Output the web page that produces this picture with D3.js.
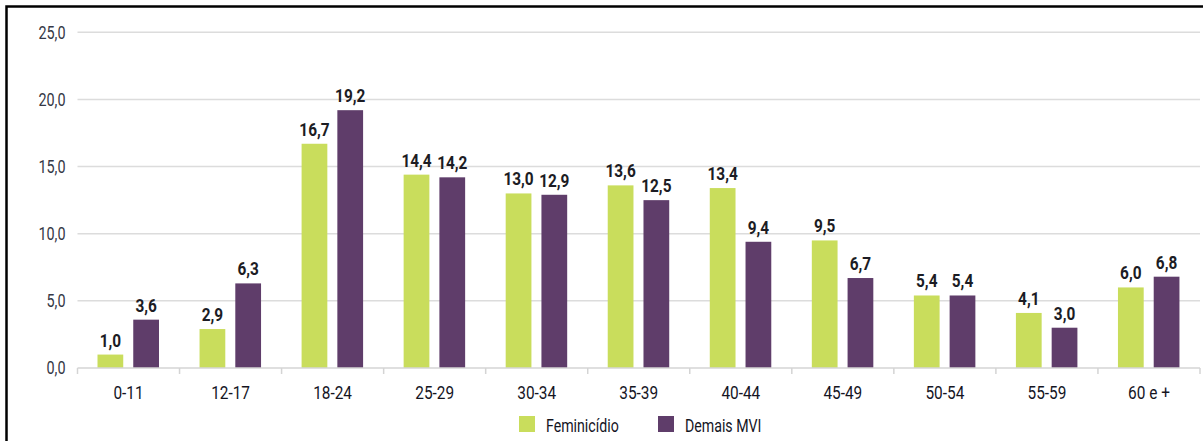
<!DOCTYPE html>
<html lang="pt-BR">
<head>
<meta charset="utf-8">
<script src="https://cdn.jsdelivr.net/npm/d3@7"></script>
<style>
  html, body { margin: 0; padding: 0; background: #fff; }
  svg { display: block; }
  text { font-family: Roboto, "Liberation Sans", sans-serif; }
</style>
</head>
<body>
<svg id="chart" width="1203" height="441"></svg>
<script>
// Age groups and rates per series
const categories = ["0-11", "12-17", "18-24", "25-29", "30-34", "35-39", "40-44", "45-49", "50-54", "55-59", "60 e +"];
const feminicidio = [1.0, 2.9, 16.7, 14.4, 13.0, 13.6, 13.4, 9.5, 5.4, 4.1, 6.0];
const demaisMVI   = [3.6, 6.3, 19.2, 14.2, 12.9, 12.5, 9.4, 6.7, 5.4, 3.0, 6.8];
const seriesNames = ["Feminicídio", "Demais MVI"];
const yTicks = [0, 5, 10, 15, 20, 25];

const colors = { "Feminicídio": "#c9dd5c", "Demais MVI": "#5f3d6a" };

const svg = d3.select("#chart");
const W = 1203, H = 441;
const plot = { left: 77.5, right: 1200, top: 32.3, bottom: 368 };
const SX = 0.81; // horizontal squeeze for a condensed look

const fmt = v => d3.format(".1f")(v).replace(".", ",");

const x = d3.scaleBand().domain(categories).range([plot.left, plot.right]).paddingInner(0).paddingOuter(0);
const inner = d3.scaleBand().domain(seriesNames).range([20, 81.5]).paddingInner(0.28);
const y = d3.scaleLinear().domain([0, 25]).range([plot.bottom, plot.top]);

const rows = categories.map((c, i) => ({
  cat: c,
  values: [
    { key: seriesNames[0], value: feminicidio[i] },
    { key: seriesNames[1], value: demaisMVI[i] }
  ]
}));

// Horizontal gridlines
svg.append("g")
  .selectAll("line")
  .data(yTicks.filter(t => t > 0))
  .join("line")
  .attr("x1", plot.left).attr("x2", plot.right)
  .attr("y1", d => y(d)).attr("y2", d => y(d))
  .attr("stroke", "#dcdcdc").attr("stroke-width", 1.5);

// Y axis labels
const YSX = 0.8;
const yAxis = svg.append("g")
  .attr("transform", `translate(${plot.left},0)`)
  .call(d3.axisLeft(y).tickValues(yTicks).tickFormat(fmt).tickSize(0));
yAxis.select(".domain").remove();
yAxis.selectAll("text")
  .attr("x", -12 / YSX)
  .attr("transform", `scale(${YSX},1)`)
  .attr("font-size", 18)
  .attr("fill", "#353846")
  .style("font-family", null);

// Bars
const groups = svg.append("g")
  .selectAll("g")
  .data(rows)
  .join("g")
  .attr("transform", d => `translate(${x(d.cat)},0)`);

groups.selectAll("rect")
  .data(d => d.values)
  .join("rect")
  .attr("x", d => inner(d.key))
  .attr("width", inner.bandwidth())
  .attr("y", d => y(d.value))
  .attr("height", d => y(0) - y(d.value))
  .attr("fill", d => colors[d.key]);

// Value labels
groups.selectAll("text.val")
  .data(d => d.values)
  .join("text")
  .attr("class", "val")
  .attr("transform", d => `translate(${inner(d.key) + inner.bandwidth() / 2},${y(d.value) - 8}) scale(${SX},1)`)
  .attr("text-anchor", "middle")
  .attr("font-size", 19)
  .attr("font-weight", "bold")
  .attr("fill", "#1c1c24")
  .text(d => fmt(d.value));

// X axis baseline and boundary ticks
const xAxisG = svg.append("g");
xAxisG.append("line")
  .attr("x1", plot.left).attr("x2", plot.right)
  .attr("y1", plot.bottom).attr("y2", plot.bottom)
  .attr("stroke", "#d4d4d4").attr("stroke-width", 1.5);
const edges = categories.map(c => x(c)).concat([x(categories[categories.length - 1]) + x.bandwidth()]);
xAxisG.selectAll("line.tick")
  .data(edges)
  .join("line")
  .attr("class", "tick")
  .attr("x1", d => d).attr("x2", d => d)
  .attr("y1", plot.bottom).attr("y2", plot.bottom + 6)
  .attr("stroke", "#d4d4d4").attr("stroke-width", 1.5);

// Category labels
xAxisG.selectAll("text")
  .data(categories)
  .join("text")
  .attr("transform", d => `translate(${x(d) + x.bandwidth() / 2},398.5) scale(${SX},1)`)
  .attr("text-anchor", "middle")
  .attr("font-size", 19)
  .attr("fill", "#15151f")
  .text(d => d);

// Legend
const legendItems = [
  { key: "Feminicídio", x: 519 },
  { key: "Demais MVI", x: 658 }
];
const legend = svg.append("g");
const li = legend.selectAll("g").data(legendItems).join("g")
  .attr("transform", d => `translate(${d.x},416)`);
li.append("rect").attr("width", 16).attr("height", 16).attr("fill", d => colors[d.key]);
li.append("text")
  .attr("transform", `translate(27,15.5) scale(${SX},1)`)
  .attr("font-size", 17.5)
  .attr("fill", "#15151f")
  .text(d => d.key);

// Frame (top and left edges)
svg.append("path")
  .attr("d", `M6.5,${H} V6.5 H${W}`)
  .attr("fill", "none")
  .attr("stroke", "#000")
  .attr("stroke-width", 2.5);
</script>
</body>
</html>
